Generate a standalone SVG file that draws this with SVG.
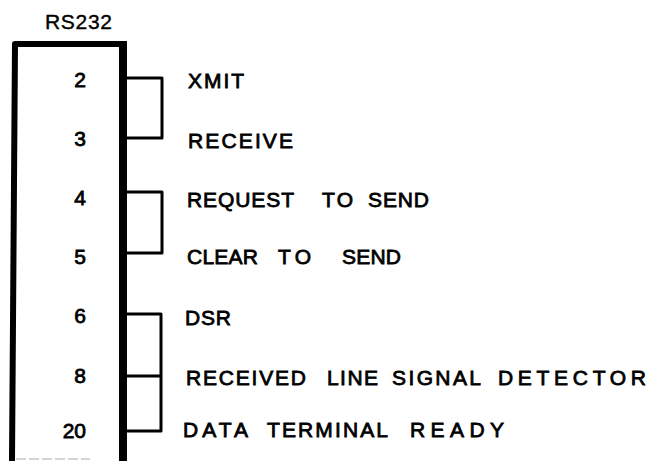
<svg xmlns="http://www.w3.org/2000/svg" width="652" height="461" viewBox="0 0 652 461">
<style>
  text { font-family: "Liberation Sans", Arial, sans-serif; font-size: 21px; fill: #000; stroke: #000; stroke-width: 0.8; }
  .title { stroke-width: 0.4; }
  .pin { text-anchor: end; }
  .frame { fill: none; stroke: #000; stroke-linejoin: round; }
  .jmp { fill: none; stroke: #000; stroke-width: 3; stroke-linejoin: round; }
</style>
<rect width="652" height="461" fill="#fff"/>
<g id="connector">
  <text class="title" x="45" y="29" textLength="67" lengthAdjust="spacing">RS232</text>
  <path class="frame" d="M12 461 L15 44 H123" stroke-width="6"/>
  <line x1="123" y1="41" x2="123" y2="461" stroke="#000" stroke-width="8"/>
  <line x1="16" y1="459" x2="90" y2="459" stroke="#aaa" stroke-width="1" stroke-dasharray="10 3"/>
</g>
<g id="pins">
  <text class="pin" x="86" y="87">2</text>
  <text class="pin" x="86" y="146">3</text>
  <text class="pin" x="86" y="205">4</text>
  <text class="pin" x="86" y="264">5</text>
  <text class="pin" x="86" y="323">6</text>
  <text class="pin" x="86" y="383">8</text>
  <text class="pin" x="86" y="438">20</text>
</g>
<g id="connectors">
  <path class="jmp" d="M127 78 H162 V138 H127"/>
  <path class="jmp" d="M127 192 H162 V253 H127"/>
  <path class="jmp" d="M127 314 H161 V431 H127"/>
  <path class="jmp" d="M127 376 H161"/>
</g>
<g id="label-xmit">
  <text x="188" y="88" textLength="56" lengthAdjust="spacing">XMIT</text>
</g>
<g id="label-receive">
  <text x="188" y="148" textLength="105" lengthAdjust="spacing">RECEIVE</text>
</g>
<g id="label-rts">
  <text x="187" y="207" textLength="107" lengthAdjust="spacing">REQUEST</text>
  <text x="322" y="207" textLength="31" lengthAdjust="spacing">TO</text>
  <text x="368" y="207" textLength="61" lengthAdjust="spacing">SEND</text>
</g>
<g id="label-cts">
  <text x="187" y="264" textLength="71" lengthAdjust="spacing">CLEAR</text>
  <text x="278" y="264" textLength="33" lengthAdjust="spacing">TO</text>
  <text x="342" y="264" textLength="59" lengthAdjust="spacing">SEND</text>
</g>
<g id="label-dsr">
  <text x="185" y="325" textLength="46" lengthAdjust="spacing">DSR</text>
</g>
<g id="label-rlsd">
  <text x="186" y="385" textLength="120" lengthAdjust="spacing">RECEIVED</text>
  <text x="327" y="385" textLength="51" lengthAdjust="spacing">LINE</text>
  <text x="392" y="385" textLength="89" lengthAdjust="spacing">SIGNAL</text>
  <text x="498" y="385" textLength="148" lengthAdjust="spacing">DETECTOR</text>
</g>
<g id="label-dtr">
  <text x="183" y="437" textLength="65" lengthAdjust="spacing">DATA</text>
  <text x="267" y="437" textLength="121" lengthAdjust="spacing">TERMINAL</text>
  <text x="410" y="437" textLength="94" lengthAdjust="spacing">READY</text>
</g>
</svg>
